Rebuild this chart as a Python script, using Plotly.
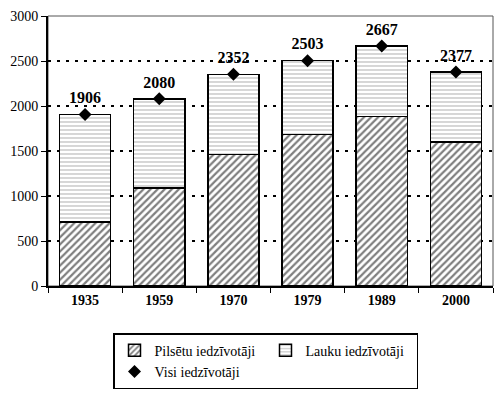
import plotly.graph_objects as go

years = ["1935", "1959", "1970", "1979", "1989", "2000"]
urban = [710, 1090, 1460, 1685, 1885, 1600]
total = [1906, 2080, 2352, 2503, 2667, 2377]
rural = [t - u for t, u in zip(total, urban)]
total_labels = [str(t) for t in total]

serif = "Liberation Serif, Times New Roman, serif"

fig = go.Figure()
fig.add_trace(go.Bar(
    x=years, y=urban, name="Pilsētu iedzīvotāji",
    marker=dict(color="white", line=dict(color="black", width=1.5),
                pattern=dict(shape="/", fgcolor="black", bgcolor="white", size=5, solidity=0.45)),
))
fig.add_trace(go.Bar(
    x=years, y=rural, name="Lauku iedzīvotāji",
    marker=dict(color="white", line=dict(color="black", width=1.5),
                pattern=dict(shape="-", fgcolor="#777777", bgcolor="white", size=4, solidity=0.3)),
))
fig.add_trace(go.Scatter(
    x=years, y=total, name="Visi iedzīvotāji", mode="markers+text",
    marker=dict(symbol="diamond", color="black", size=10),
    text=total_labels, textposition="top center",
    textfont=dict(family=serif, size=16, color="black", weight="bold"),
))

fig.update_layout(
    width=500, height=397,
    barmode="stack", bargap=0.31,
    paper_bgcolor="white", plot_bgcolor="white",
    margin=dict(l=48, r=7, t=16, b=111, autoexpand=False),
    font=dict(family=serif, size=14, color="black"),
    showlegend=True,
    legend=dict(
        orientation="h", xref="container", yref="container",
        x=0.226, xanchor="left", y=0.161, yanchor="top",
        bordercolor="black", borderwidth=1.5,
        entrywidth=106, entrywidthmode="pixels",
        font=dict(family=serif, size=14, color="black"),
        traceorder="normal",
    ),
)
fig.update_xaxes(
    showline=True, linecolor="black", linewidth=2, mirror=False,
    ticks="outside", ticklen=5, tickcolor="black",
    tickson="boundaries", automargin=False,
    tickfont=dict(family=serif, size=14, color="black", weight="bold"),
    showgrid=False,
)
fig.update_yaxes(
    range=[0, 3000], dtick=500, automargin=False,
    showline=True, linecolor="black", linewidth=2,
    ticks="outside", ticklen=5, tickcolor="black",
    tickfont=dict(family=serif, size=14, color="black"),
    showgrid=True, gridcolor="black", gridwidth=1.5, griddash="3px,6px",
    zeroline=False,
)
fig.add_shape(type="rect", xref="paper", yref="paper", x0=0, x1=1, y0=0, y1=1,
              line=dict(color="#555555", width=1), layer="below")

fig.write_html("out.html", config={"displayModeBar": False},
               post_script="document.body.style.margin='0';")
